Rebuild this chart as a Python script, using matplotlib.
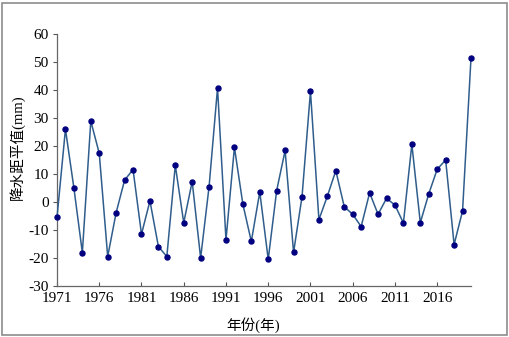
import numpy as np
import matplotlib
matplotlib.use('Agg')
from matplotlib import pyplot as plt
from matplotlib.patches import Rectangle

# precipitation anomaly per year (mm)
years = list(range(1971, 2021))
anomaly = [-5.5, 26.0, 5.0, -18.1, 28.9, 17.4, -19.5, -3.8, 7.8, 11.6,
           -11.5, 0.4, -15.9, -19.5, 13.1, -7.4, 7.3, -20.0, 5.5, 40.7,
           -13.5, 19.5, -0.8, -14.1, 3.6, -20.5, 4.1, 18.4, -18.0, 1.9,
           39.5, -6.3, 2.1, 11.2, -1.7, -4.4, -8.8, 3.3, -4.4, 1.3,
           -1.1, -7.5, 20.6, -7.4, 2.9, 11.7, 15.0, -15.2, -3.2, 51.4]
x_ticks = list(range(1971, 2020, 5))
y_ticks = list(range(-30, 61, 10))

SERIF = ['Liberation Serif', 'Noto Sans CJK SC']
plt.rcParams['font.family'] = SERIF
plt.rcParams['axes.unicode_minus'] = False

fig = plt.figure(figsize=(5.09, 3.37), dpi=100)
ax = fig.add_axes([57 / 509, 1 - 286 / 337, 414 / 509, 252 / 337])

# chart area border
fig.patches.append(Rectangle((2 / 509, 2 / 337), 505 / 509, 332 / 337, transform=fig.transFigure,
                             fill=False, edgecolor='#8c8c8c', linewidth=1.2))

ax.plot(years, anomaly, color='#2f5d8c', linewidth=1.1, marker='o', markersize=3.6,
        markerfacecolor='#000080', markeredgecolor='#000080', zorder=3, clip_on=False)

ax.set_xlim(1971, 2020)
ax.set_ylim(-30, 60)
ax.set_xticks(x_ticks)
ax.set_yticks(y_ticks)
ax.tick_params(axis='x', direction='in', length=3, labelsize=11, pad=4, color='#555555')
ax.tick_params(axis='y', direction='out', length=3, labelsize=11, pad=3, color='#555555')

for side in ('top', 'right'):
    ax.spines[side].set_visible(False)
for side in ('left', 'bottom'):
    ax.spines[side].set_color('#666666')
    ax.spines[side].set_linewidth(0.9)

fig.text(253 / 509, 1 - 325 / 337, '年份(年)', ha='center', va='center', fontsize=10.5, family=SERIF)
fig.text(17 / 509, 1 - 147 / 337, '降水距平值(mm)', ha='center', va='center', rotation=90,
         fontsize=10.5, family=SERIF)

fig.savefig('out.png', dpi=100)
